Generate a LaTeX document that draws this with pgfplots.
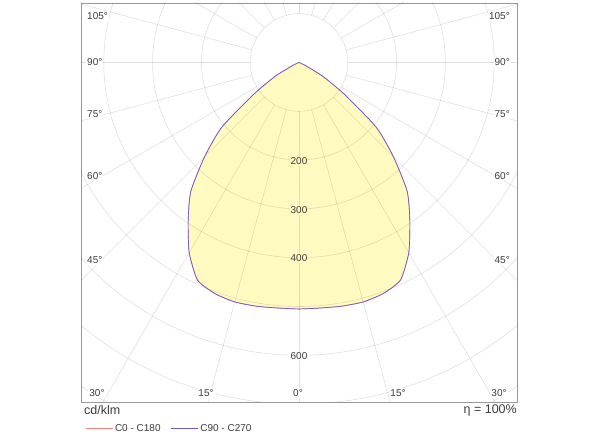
\documentclass[border=0pt]{standalone}
\usepackage{pgfplots}
\pgfplotsset{compat=1.18}
\usepackage{pgfplotstable}
\usepackage{fontspec}
\setmainfont{Liberation Sans}

\definecolor{ldcfill}{RGB}{255,251,192}
\definecolor{ldcred}{RGB}{238,130,130}
\definecolor{ldcblue}{RGB}{112,92,210}
\definecolor{lbl}{RGB}{60,60,60}

% gamma (deg, 0 = straight down, negative = left half)  intensity (cd/klm)
\pgfplotstableread{
g I
-70 0
-65 12
-60 55
-55 113
-50 207
-45 274
-40 345
-35 396
-30 450
-25 492
-20 504
-15 508
-10 507
-5 505
0 505
5 505
10 507
15 508
20 504
25 492
30 450
35 396
40 345
45 274
50 207
55 113
60 55
65 12
70 0
}\ldc

\begin{document}
\begin{tikzpicture}
\useasboundingbox (0,0) rectangle (600pt,443pt);
\begin{axis}[
  at={(81pt,41pt)}, anchor=south west,
  scale only axis, width=436pt, height=399pt,
  xmin=-446.7, xmax=446.7, ymin=-695.7, ymax=121.9,
  ticks=none,
  axis line style={draw=black!40, line width=0.8pt},
  legend style={at={(rel axis cs:0,0)}, anchor=north west, xshift=4pt, yshift=-20pt,
    draw=none, fill=none, legend columns=2, inner xsep=0pt, inner ysep=0pt,
    font=\fontsize{10}{12}\selectfont,
    /tikz/every even column/.append style={column sep=8pt}},
  legend cell align=left,
  legend image code/.code={\draw[#1, line width=0.8pt] (0pt,0pt) -- (27pt,0pt);},
]
\addplot[fill=ldcfill, draw=none, data cs=polar, smooth, tension=0.35, forget plot]
  table[x expr=\thisrow{g}-90, y=I] {\ldc};
% polar grid
\pgfplotsinvokeforeach{100,200,...,900}{
  \draw[black, opacity=0.12, line width=0.6pt] (axis cs:0,0) circle [radius=#1];
}
\pgfplotsinvokeforeach{0,15,...,345}{
  \draw[black, opacity=0.12, line width=0.6pt]
    (axis cs:{100*cos(#1)},{100*sin(#1)}) -- (axis cs:{1000*cos(#1)},{1000*sin(#1)});
}
\addplot[color=ldcred, line width=0.7pt, data cs=polar, smooth, tension=0.35]
  table[x expr=\thisrow{g}-90, y=I] {\ldc};
\addlegendentry{\textcolor{lbl}{C0 - C180}}
\addplot[color=ldcblue, line width=0.7pt, data cs=polar, smooth, tension=0.35]
  table[x expr=\thisrow{g}-90, y=I] {\ldc};
\addlegendentry{\textcolor{lbl}{C90 - C270}}
\end{axis}

\begin{scope}[every node/.style={font=\fontsize{10}{12}\selectfont, text=lbl, inner sep=1pt}]
\node[anchor=west, fill=white] at (86pt,427pt) {105°};
\node[anchor=west, fill=white] at (86pt,381pt) {90°};
\node[anchor=west, fill=white] at (86pt,329pt) {75°};
\node[anchor=west, fill=white] at (86pt,267pt) {60°};
\node[anchor=west, fill=white] at (86pt,183pt) {45°};
\node[anchor=east, fill=white] at (511pt,427pt) {105°};
\node[anchor=east, fill=white] at (511pt,381pt) {90°};
\node[anchor=east, fill=white] at (511pt,329pt) {75°};
\node[anchor=east, fill=white] at (511pt,267pt) {60°};
\node[anchor=east, fill=white] at (511pt,183pt) {45°};
\node[fill=white] at (97pt,50pt) {30°};
\node[fill=white] at (206pt,50pt) {15°};
\node[fill=white] at (298pt,50pt) {0°};
\node[fill=white] at (398pt,50pt) {15°};
\node[fill=white] at (499pt,50pt) {30°};
\node[fill=ldcfill] at (299pt,282pt) {200};
\node[fill=ldcfill] at (299pt,233pt) {300};
\node[fill=ldcfill] at (299pt,185pt) {400};
\node[fill=white] at (299pt,87pt) {600};
\end{scope}
\node[anchor=west, font=\fontsize{12.5}{14}\selectfont, text=lbl, inner sep=0pt] at (84pt,33pt) {cd/klm};
\node[anchor=east, font=\fontsize{12.5}{14}\selectfont, text=lbl, inner sep=0pt] at (517pt,33pt) {η = 100\%};
\end{tikzpicture}
\end{document}
